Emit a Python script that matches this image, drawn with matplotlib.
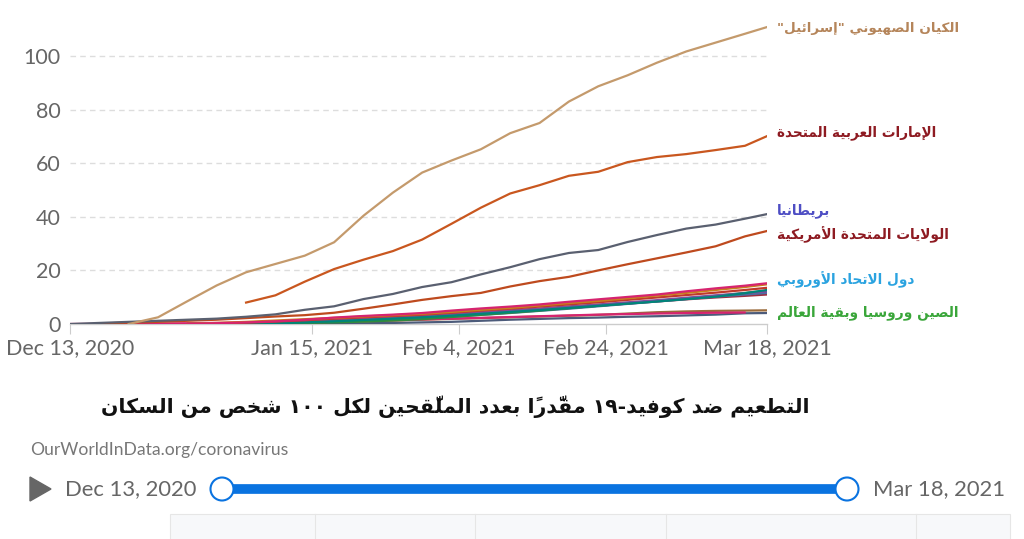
import numpy as np
import pandas as pd
import matplotlib
matplotlib.use("Agg")
import matplotlib.pyplot as plt
import matplotlib.transforms as mtransforms
from matplotlib.patches import Circle, Polygon, Rectangle
from matplotlib.lines import Line2D

nan = np.nan

# ---------------- data ----------------
dates = ['2020-12-13', '2020-12-17', '2020-12-21', '2020-12-25', '2020-12-29',
         '2021-01-02', '2021-01-06', '2021-01-10', '2021-01-14', '2021-01-18',
         '2021-01-22', '2021-01-26', '2021-01-30', '2021-02-03', '2021-02-07',
         '2021-02-11', '2021-02-15', '2021-02-19', '2021-02-23', '2021-02-27',
         '2021-03-03', '2021-03-07', '2021-03-11', '2021-03-15', '2021-03-18']

israel = [nan, nan, 0.0, 2.5, 8.5, 14.4, 19.3, 22.4, 25.5, 30.5, 40.4, 49.0, 56.5,
          61.0, 65.2, 71.2, 75.0, 83.0, 88.7, 92.8, 97.5, 101.7, 105.0, 108.3, 110.8]
uae = [nan, nan, nan, nan, nan, nan, 8.0, 10.7, 15.8, 20.5, 24.0, 27.2, 31.5,
       37.4, 43.4, 48.7, 51.8, 55.3, 56.8, 60.4, 62.3, 63.4, 64.9, 66.5, 70.1]
uk = [0.0, 0.4, 0.8, 1.2, 1.6, 2.0, 2.7, 3.6, 5.3, 6.6, 9.3, 11.2, 13.8,
      15.6, 18.5, 21.2, 24.2, 26.5, 27.6, 30.6, 33.2, 35.6, 37.1, 39.3, 41.0]
usa = [nan, 0.2, 0.5, 0.8, 1.2, 1.6, 2.2, 2.8, 3.3, 4.2, 5.7, 7.3, 9.0,
       10.4, 11.6, 14.0, 16.0, 17.6, 20.0, 22.3, 24.5, 26.7, 29.0, 32.7, 34.7]

eu_lines = [
    [nan, nan, nan, nan, 0.0, 0.1, 0.3, 0.5, 0.8, 1.2, 1.6, 2.1, 2.6, 3.2, 3.8, 4.5, 5.2, 6.0, 6.8, 7.6, 8.4, 9.2, 9.9, 10.5, 11.0],
    [nan, nan, nan, nan, 0.0, 0.1, 0.2, 0.4, 0.6, 0.9, 1.2, 1.6, 2.1, 2.7, 3.4, 4.1, 4.9, 5.7, 6.6, 7.5, 8.4, 9.3, 10.2, 11.0, 11.6],
    [nan, nan, nan, nan, nan, 0.0, 0.1, 0.2, 0.4, 0.6, 0.9, 1.3, 1.8, 2.6, 3.4, 4.2, 5.0, 5.9, 6.8, 7.7, 8.6, 9.6, 10.5, 11.6, 12.4],
    [nan, nan, nan, nan, 0.0, 0.2, 0.4, 0.7, 1.1, 1.6, 2.1, 2.6, 3.2, 3.8, 4.4, 5.1, 5.8, 6.6, 7.3, 8.1, 8.9, 9.8, 10.7, 11.5, 12.1],
    [nan, nan, nan, nan, nan, 0.0, 0.1, 0.3, 0.6, 1.0, 1.5, 2.0, 2.5, 3.1, 3.8, 4.5, 5.2, 6.0, 6.8, 7.6, 8.4, 9.3, 10.2, 11.5, 12.7],
    [nan, nan, nan, nan, 0.0, 0.2, 0.5, 0.9, 1.4, 2.0, 2.5, 3.0, 3.5, 4.2, 5.0, 5.7, 6.5, 7.3, 8.1, 9.0, 9.9, 10.8, 11.7, 12.7, 13.5],
    [nan, nan, nan, nan, 0.1, 0.4, 0.8, 1.3, 1.8, 2.3, 2.8, 3.3, 3.8, 4.5, 5.3, 6.0, 6.9, 7.8, 8.6, 9.6, 10.6, 11.6, 12.7, 13.8, 14.8],
    [nan, nan, nan, nan, 0.1, 0.3, 0.6, 1.0, 1.6, 2.4, 3.0, 3.5, 4.1, 5.0, 5.8, 6.5, 7.3, 8.3, 9.2, 10.1, 11.0, 12.2, 13.3, 14.3, 15.2],
]
eu_colors = ['#9C2F3F', '#4A6FA5', '#2E8B3E', '#7E4E9E', '#00857A', '#C0392B', '#C87F1E', '#D6246F']

low_lines = [
    [nan, nan, nan, nan, nan, 0.0, 0.05, 0.1, 0.15, 0.2, 0.3, 0.4, 0.6, 0.8, 1.2, 1.6, 1.9, 2.2, 2.4, 2.7, 2.9, 3.2, 3.5, 4.0, 4.1],
    [nan, nan, nan, nan, nan, 0.1, 0.2, 0.4, 0.6, 0.8, 1.0, 1.3, 1.6, 1.9, 2.2, 2.5, 2.8, 3.1, 3.4, 3.9, 4.4, 4.7, 4.9, 5.0, 5.1],
    [0.0, 0.05, 0.1, 0.2, 0.3, 0.4, 0.5, 0.6, 0.7, 0.9, 1.1, 1.4, 1.7, 2.0, 2.3, 2.6, 2.9, 3.2, 3.5, 3.7, 3.9, 4.1, 4.2, 4.3, nan],
]
low_colors = ['#4C5B7A', '#9A6A3A', '#D6246F']

yticks = [0, 20, 40, 60, 80, 100]
xtick_dates = ['2020-12-13', '2021-01-15', '2021-02-04', '2021-02-24', '2021-03-18']
xtick_labels = ['Dec 13, 2020', 'Jan 15, 2021', 'Feb 4, 2021', 'Feb 24, 2021', 'Mar 18, 2021']

label_texts = ['الكيان الصهيوني "إسرائيل"', 'الإمارات العربية المتحدة', 'بريطانيا',
               'الولايات المتحدة الأمريكية', 'دول الاتحاد الأوروبي', 'الصين وروسيا وبقية العالَم']
label_values = [110.4, 71.3, 42.2, 33.2, 16.4, 4.1]
label_colors = ['#B5855A', '#8E1B22', '#4E4EC4', '#8E1B22', '#2BA3E0', '#3AA63A']
label_sizes = [9.7, 9.8, 9.9, 9.9, 9.8, 9.9]

title = 'التطعيم ضد كوفيد-١٩ مقدَّراً بعدد الملقَّحين لكل ١٠٠ شخص من السكان'
source = 'OurWorldInData.org/coronavirus'
start_label = 'Dec 13, 2020'
end_label = 'Mar 18, 2021'

# ---------------- minimal Arabic shaping ----------------
DUAL = {0x0626: 0xFE89, 0x0628: 0xFE8F, 0x062A: 0xFE95, 0x062B: 0xFE99, 0x062C: 0xFE9D,
        0x062D: 0xFEA1, 0x062E: 0xFEA5, 0x0633: 0xFEB1, 0x0634: 0xFEB5, 0x0635: 0xFEB9,
        0x0636: 0xFEBD, 0x0637: 0xFEC1, 0x0638: 0xFEC5, 0x0639: 0xFEC9, 0x063A: 0xFECD,
        0x0641: 0xFED1, 0x0642: 0xFED5, 0x0643: 0xFED9, 0x0644: 0xFEDD, 0x0645: 0xFEE1,
        0x0646: 0xFEE5, 0x0647: 0xFEE9, 0x064A: 0xFEF1}
RIGHT = {0x0622: 0xFE81, 0x0623: 0xFE83, 0x0624: 0xFE85, 0x0625: 0xFE87, 0x0627: 0xFE8D,
         0x0629: 0xFE93, 0x062F: 0xFEA9, 0x0630: 0xFEAB, 0x0631: 0xFEAD, 0x0632: 0xFEAF,
         0x0648: 0xFEED, 0x0649: 0xFEEF}
LAMALEF = {0x0622: 0xFEF5, 0x0623: 0xFEF7, 0x0625: 0xFEF9, 0x0627: 0xFEFB}


def is_mark(ch):
    o = ord(ch)
    return 0x064B <= o <= 0x0652 or o == 0x0670


def is_ltr(ch):
    o = ord(ch)
    return ch.isascii() and ch.isalnum() or 0x0660 <= o <= 0x0669


def shape_ar(s):
    items = []
    for ch in s:
        if is_mark(ch) and items:
            items[-1][1] += ch
        else:
            items.append([ch, ''])
    merged = []
    i = 0
    while i < len(items):
        b, m = items[i]
        if ord(b) == 0x0644 and i + 1 < len(items) and ord(items[i + 1][0]) in LAMALEF:
            merged.append([('LA', ord(items[i + 1][0])), m + items[i + 1][1]])
            i += 2
        else:
            merged.append([b, m])
            i += 1

    def jt(b):
        if isinstance(b, tuple):
            return 'R'
        o = ord(b)
        if o in DUAL:
            return 'D'
        if o in RIGHT:
            return 'R'
        return 'U'

    clusters = []
    n = len(merged)
    for i, (b, m) in enumerate(merged):
        t = jt(b)
        pj = i > 0 and jt(merged[i - 1][0]) == 'D'
        nj = i < n - 1 and jt(merged[i + 1][0]) in ('D', 'R')
        if t == 'U':
            g = b
        elif t == 'R':
            base = LAMALEF[b[1]] if isinstance(b, tuple) else RIGHT[ord(b)]
            g = chr(base + (1 if pj else 0))
        else:
            base = DUAL[ord(b)]
            if pj and nj:
                g = chr(base + 3)
            elif pj:
                g = chr(base + 1)
            elif nj:
                g = chr(base + 2)
            else:
                g = chr(base)
        clusters.append((g, m, is_ltr(b) if not isinstance(b, tuple) else False))
    runs = []
    for g, m, l in clusters:
        if l and runs and runs[-1][0]:
            runs[-1][1].append(g + m)
        else:
            runs.append([l, [g + m]])
    out = ''
    for l, parts in reversed(runs):
        out += ''.join(parts) if l else ''.join(reversed(parts))
    return out


# ---------------- figure ----------------
W, H = 1024, 539
fig = plt.figure(figsize=(W / 100, H / 100), dpi=100)
fig.patch.set_facecolor('white')


def fx(px):
    return px / W


def fy(py):
    return 1 - py / H


ymax = 115
ax_left, ax_right, ax_bottom = 70, 767, 324
ax_top = ax_bottom - ymax * 2.68
ax = fig.add_axes([fx(ax_left), fy(ax_bottom), fx(ax_right - ax_left), (ax_bottom - ax_top) / H])

x = pd.to_datetime(dates)
x0, x1 = pd.Timestamp('2020-12-13'), pd.Timestamp('2021-03-18')

for vals, c in zip(low_lines, low_colors):
    ax.plot(x, vals, color=c, lw=1.6, solid_capstyle='round', zorder=3)
for vals, c in zip(eu_lines, eu_colors):
    ax.plot(x, vals, color=c, lw=1.6, solid_capstyle='round', zorder=3)
ax.plot(x, usa, color='#BE4A1E', lw=1.6, zorder=4)
ax.plot(x, uk, color='#5A6070', lw=1.6, zorder=4)
ax.plot(x, uae, color='#C9571F', lw=1.6, zorder=4)
ax.plot(x, israel, color='#C49A6C', lw=1.6, zorder=4)

ax.set_xlim(x0, x1)
ax.set_ylim(0, ymax)
for s in ['top', 'right', 'left']:
    ax.spines[s].set_visible(False)
ax.spines['bottom'].set_color('#cccccc')
ax.spines['bottom'].set_linewidth(1)

ax.set_yticks(yticks)
ax.set_yticklabels([str(v) for v in yticks], fontfamily='Lato', fontsize=15.5, color='#666666')
ax.tick_params(axis='y', length=0, pad=7)
for v in yticks[1:]:
    ax.axhline(v, color='#dddddd', lw=1, ls=(0, (4, 3)), zorder=1)

ax.set_xticks(pd.to_datetime(xtick_dates))
ax.set_xticklabels(xtick_labels, fontfamily='Lato', fontsize=15.5, color='#666666')
ax.tick_params(axis='x', length=7, color='#cccccc', pad=3)

trans = mtransforms.blended_transform_factory(ax.transAxes, ax.transData)
for t, v, c, fs in zip(label_texts, label_values, label_colors, label_sizes):
    ax.text(1.0, v, shape_ar(t), transform=trans + mtransforms.ScaledTranslation(10 / 100, 0, fig.dpi_scale_trans),
            ha='left', va='center', fontfamily='DejaVu Sans', fontweight='bold', fontsize=fs,
            color=c, clip_on=False)

fig.text(fx(455), fy(407), shape_ar(title), ha='center', va='center', fontfamily='DejaVu Sans',
         fontweight='bold', fontsize=14.7, color='#111111')
fig.text(fx(30), fy(450), source, ha='left', va='center', fontfamily='Lato', fontsize=12.6, color='#777777')

# timeline controls
ov = fig.add_axes([0, 0, 1, 1], zorder=5)
ov.set_xlim(0, W)
ov.set_ylim(H, 0)
ov.axis('off')
ov.add_patch(Polygon([[30, 477], [30, 501], [51, 489]], closed=True, color='#666666'))
ov.text(65, 489, start_label, ha='left', va='center', fontfamily='Lato', fontsize=15.8, color='#666666')
ov.text(873, 489, end_label, ha='left', va='center', fontfamily='Lato', fontsize=15.8, color='#666666')
ov.add_line(Line2D([222, 847], [489, 489], color='#0A73E0', lw=7, solid_capstyle='butt'))
for cx in (222, 847):
    ov.add_patch(Circle((cx, 489), 11.5, facecolor='white', edgecolor='#0A73E0', lw=1.5, zorder=6))
ov.add_patch(Rectangle((170, 514), 840, 30, facecolor='#f7f8fa', edgecolor='#e6e6e6', lw=0.8))
for vx in (315, 475, 666, 916):
    ov.add_line(Line2D([vx, vx], [514, 539], color='#e6e6e6', lw=0.8))

fig.savefig('out.png', dpi=100, facecolor='white')
